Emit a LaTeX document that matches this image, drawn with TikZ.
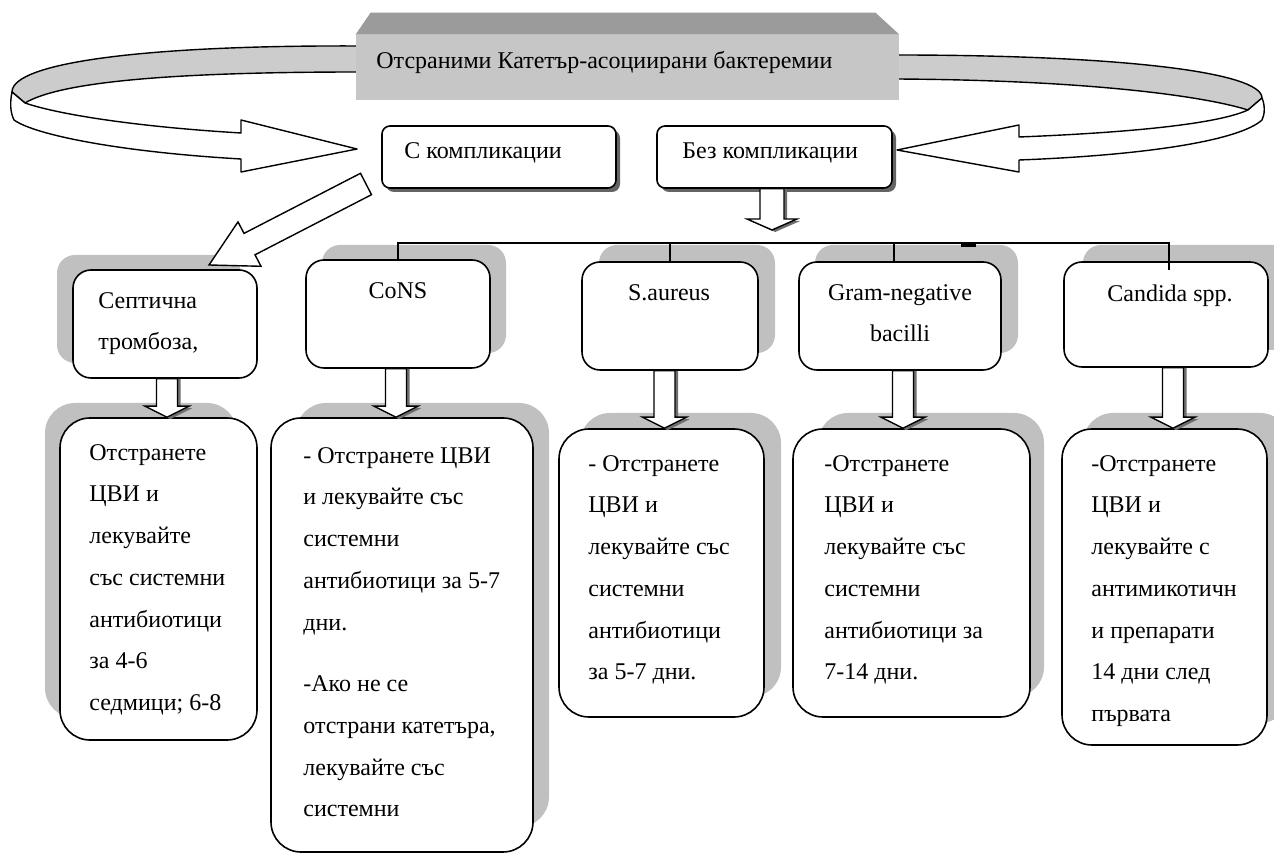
\documentclass[tikz,border=0pt]{standalone}
\usepackage{fontspec}
\setmainfont{Liberation Serif}
\usetikzlibrary{calc}
\newcommand\pxu{0.5pt}
\definecolor{bannerfront}{RGB}{198,198,198}
\definecolor{bannertop}{RGB}{155,155,155}
\definecolor{ribbongray}{RGB}{204,204,204}
\definecolor{boxshade}{RGB}{192,192,192}
\definecolor{darkshade}{RGB}{100,100,100}
\definecolor{arrshadecol}{RGB}{110,110,110}
\tikzset{
 outl/.style={draw=black, line width=0.8pt},
 catbox/.style={outl, fill=white, rounded corners=18*\pxu, inner sep=0},
 botbox/.style={outl, fill=white, rounded corners=30*\pxu, inner sep=0},
 smallbox/.style={outl, fill=white, rounded corners=8*\pxu, inner sep=0},
 txt/.style={inner sep=0, font=\fontsize{12}{20.85}\selectfont},
 conn/.style={draw=black, line width=0.75pt},
 arrline/.style={draw=black, fill=white, line width=0.7pt, line join=miter},
 ashade/.style={fill=arrshadecol},
 ribbon/.style={draw=black, line width=0.7pt, line join=round},
}
\newcommand\dnarrow[6]{%
 \fill[ashade] let \p1=(#2), \p2=($(#3)+(#1,0)$) in
  (\x2-#4+1.6pt,\y1) -- (\x2-#4+1.6pt,\y2+#6-1pt) -- (\x2-#5+1.6pt,\y2+#6-1pt) -- (\x2+1.6pt,\y2-1pt) -- (\x2+#5+1.6pt,\y2+#6-1pt) -- (\x2+#4+1.6pt,\y2+#6-1pt) -- (\x2+#4+1.6pt,\y1) -- cycle;
 \path[arrline] let \p1=(#2), \p2=($(#3)+(#1,0)$) in
  (\x2-#4,\y1) -- (\x2-#4,\y2+#6) -- (\x2-#5,\y2+#6) -- (\x2,\y2) -- (\x2+#5,\y2+#6) -- (\x2+#4,\y2+#6) -- (\x2+#4,\y1) -- cycle;
}
\begin{document}
\begin{tikzpicture}[x=0.5pt,y=-0.5pt]
\useasboundingbox (0,0) rectangle (1274,854);

% ribbons behind the banner
\filldraw[ribbon, fill=ribbongray] (360,46) .. controls (150,45) and (12,62) .. (12,92) -- (25,103) .. controls (60,82) and (170,72) .. (360,72) -- cycle;
\filldraw[ribbon, fill=white] (12,92) .. controls (10,102) and (10,112) .. (14,120) .. controls (35,135) and (120,152) .. (241,159) -- (241,172) -- (357,149) -- (241,120) -- (241,133) .. controls (140,127) and (60,115) .. (25,103) -- cycle;
\filldraw[ribbon, fill=ribbongray] (895,55) .. controls (1120,55) and (1262,72) .. (1262,98) -- (1248,110) .. controls (1200,95) and (1080,80) .. (895,79) -- cycle;
\filldraw[ribbon, fill=white] (1262,98) .. controls (1265,105) and (1265,114) .. (1262,120) .. controls (1240,140) and (1150,155) .. (1019,160) -- (1019,172) -- (897,150) -- (1019,125) -- (1019,137) .. controls (1120,133) and (1215,125) .. (1248,110) -- cycle;

% banner
\node[fill=bannerfront, inner sep=0, minimum width=543*\pxu, minimum height=65*\pxu] (title) at (627.5,67.5) {};
\fill[bannertop] (title.north west) -- ($(title.north west)+(15,-22)$) -- ($(title.north east)+(-24,-22)$) -- (title.north east) -- cycle;
\node[txt, anchor=west] (titletext) at (376,62) {Отсраними Катетър-асоциирани бактеремии};

% small boxes
\fill[darkshade, rounded corners=8*\pxu] (386,130) rectangle (620,192);
\node[smallbox, minimum width=234*\pxu, minimum height=62*\pxu] (ccomp) at (499,157) {};
\node[txt, anchor=west] (ccomptext) at (404,153) {С компликации};
\fill[darkshade, rounded corners=8*\pxu] (661,130) rectangle (896,192);
\node[smallbox, minimum width=235*\pxu, minimum height=62*\pxu] (bcomp) at (774.5,157) {};
\node[txt, anchor=west] (bcomptext) at (682,153) {Без компликации};

% category boxes
\fill[boxshade, rounded corners=18*\pxu] (57,255) rectangle (241,363);
\node[catbox, minimum width=184*\pxu, minimum height=108*\pxu] (septic) at (165,324) {};
\fill[boxshade, rounded corners=18*\pxu] (322,245) rectangle (506,353);
\node[catbox, minimum width=184*\pxu, minimum height=108*\pxu] (cons) at (398,314) {};
\fill[boxshade, rounded corners=18*\pxu] (599,245) rectangle (775,353);
\node[catbox, minimum width=176*\pxu, minimum height=108*\pxu] (saur) at (670,316) {};
\fill[boxshade, rounded corners=18*\pxu] (815,245) rectangle (1018,353);
\node[catbox, minimum width=202*\pxu, minimum height=108*\pxu] (gram) at (900,316) {};
\fill[boxshade, rounded corners=18*\pxu] (1083,245) rectangle (1290,350);
\node[catbox, minimum width=204*\pxu, minimum height=105*\pxu] (cand) at (1166,314.5) {};

\node[txt, anchor=north west, align=left] (septict) at (98,292) {Септична\\тромбоза,};
\node[txt, anchor=north] (const) at (398,282) {CoNS};
\node[txt, anchor=north] (saurt) at (669,284) {S.aureus};
\node[txt, anchor=north, align=center] (gramt) at (900,284) {Gram-negative\\bacilli};
\node[txt, anchor=north] (candt) at (1170,284) {Candida spp.};

% bottom boxes
\fill[boxshade, rounded corners=30*\pxu] (45,403) rectangle (237,718);
\node[botbox, minimum width=197*\pxu, minimum height=322*\pxu] (septicb) at (158.5,579) {};
\fill[boxshade, rounded corners=30*\pxu] (296,403) rectangle (549,827);
\node[botbox, minimum width=262*\pxu, minimum height=434*\pxu] (consb) at (402,635) {};
\fill[boxshade, rounded corners=30*\pxu] (580,413) rectangle (781,697);
\node[botbox, minimum width=205*\pxu, minimum height=288*\pxu] (saurb) at (661.5,573) {};
\fill[boxshade, rounded corners=30*\pxu] (818,413) rectangle (1044,697);
\node[botbox, minimum width=237*\pxu, minimum height=288*\pxu] (gramb) at (911.5,573) {};
\fill[boxshade, rounded corners=30*\pxu] (1083,413) rectangle (1290,723);
\node[botbox, minimum width=205*\pxu, minimum height=316*\pxu] (candb) at (1164.5,587) {};

\node[txt, anchor=north west, align=left] (septicbt) at (89,444) {Отстранете\\ЦВИ и\\лекувайте\\със системни\\антибиотици\\за 4-6\\седмици; 6-8};
\node[txt, anchor=north west, align=left] (consbt) at (303,447) {- Отстранете ЦВИ\\и лекувайте със\\системни\\антибиотици за 5-7\\дни.\\[10pt]-Ако не се\\отстрани катетъра,\\лекувайте със\\системни};
\node[txt, anchor=north west, align=left] (saurbt) at (588,455) {- Отстранете\\ЦВИ и\\лекувайте със\\системни\\антибиотици\\за 5-7 дни.};
\node[txt, anchor=north west, align=left] (grambt) at (824,455) {-Отстранете\\ЦВИ и\\лекувайте със\\системни\\антибиотици за\\7-14 дни.};
\node[txt, anchor=north west, align=left] (candbt) at (1091,455) {-Отстранете\\ЦВИ и\\лекувайте с\\антимикотичн\\и препарати\\14 дни след\\първата};

% diagonal arrow from "С компликации" to "Септична тромбоза"
\filldraw[ribbon, fill=white, line join=miter] (360.5,173.3) -- (244,233.4) -- (238,221.9) -- (209,265) -- (261,266.3) -- (255,254.8) -- (371.5,194.7) -- cycle;

% bus
\coordinate (bus) at (0,243);
\coordinate (beztip) at (772,230);
\coordinate (candbus) at ($(cand.north |- bus)+(3,0)$);
\draw[conn] (cons.north) -- (cons.north |- bus) -- (candbus) -- ++(0,27);
\draw[conn] (saur.north) -- (saur.north |- bus);
\draw[conn] ($(gram.north)+(-6,0)$) -- ($(gram.north |- bus)+(-6,0)$);
\draw[line width=1.2pt] (961,245.5) -- (976,245.5);

% block arrows
\dnarrow{0}{bcomp.south}{beztip}{6pt}{12.5pt}{5.5pt}
\dnarrow{8.5}{septic.south}{septicb.north}{5.25pt}{11pt}{5.5pt}
\dnarrow{-6}{cons.south}{consb.north}{5.25pt}{11pt}{5.5pt}
\dnarrow{3}{saur.south}{saurb.north}{5.25pt}{11pt}{5.5pt}
\dnarrow{-8.5}{gram.south}{gramb.north}{5.25pt}{11pt}{5.5pt}
\dnarrow{8.5}{cand.south}{candb.north}{5.25pt}{11pt}{5.5pt}
\end{tikzpicture}
\end{document}
